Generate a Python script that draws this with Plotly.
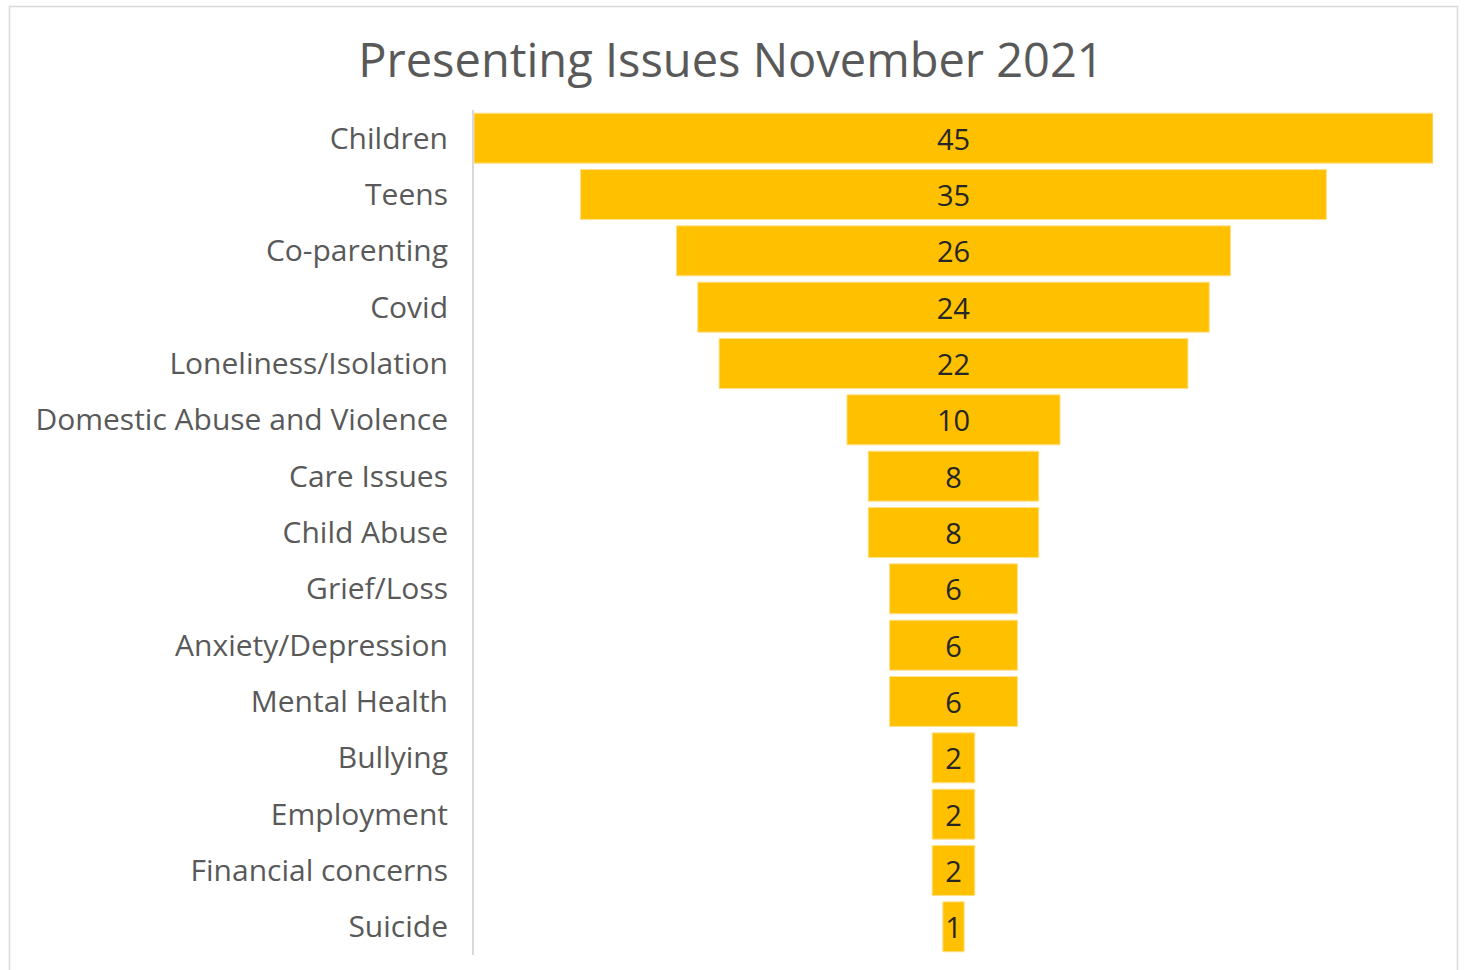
import plotly.graph_objects as go

categories = ["Children", "Teens", "Co-parenting", "Covid", "Loneliness/Isolation",
              "Domestic Abuse and Violence", "Care Issues", "Child Abuse", "Grief/Loss",
              "Anxiety/Depression", "Mental Health", "Bullying", "Employment",
              "Financial concerns", "Suicide"]
values = [45, 35, 26, 24, 22, 10, 8, 8, 6, 6, 6, 2, 2, 2, 1]

W, H = 1465, 970
L, R, T, B = 474, 32, 110, 15
pw = W - L - R
ph = H - T - B
FONT = "Open Sans, Lato, sans-serif"

fig = go.Figure(go.Funnel(
    y=categories, x=values,
    marker=dict(color="#FFC000", line=dict(color="#FFE08A", width=1)),
    connector=dict(visible=False),
    textinfo="value", textposition="inside",
    insidetextanchor="middle",
    textfont=dict(family=FONT, size=29, color="#262626"),
    constraintext="none",
))

def px2x(p):
    return (p - L) / pw

def px2y(p):
    return 1 - (p - T) / ph

fig.update_layout(
    width=W, height=H,
    margin=dict(l=L, r=R, t=T, b=B),
    paper_bgcolor="white", plot_bgcolor="white",
    funnelgap=0.113,
    showlegend=False,
    title=dict(text="Presenting Issues November 2021", x=731 / W, xanchor="center",
               y=1 - 61 / H, yanchor="middle",
               font=dict(family=FONT, size=47, color="#595959")),
    xaxis=dict(range=[-22.5, 22.5], visible=False, fixedrange=True),
    yaxis=dict(showline=True, linecolor="#D9D9D9", linewidth=2, ticks="",
               ticklabelstandoff=18,
               tickfont=dict(family=FONT, size=30, color="#595959"),
               showgrid=False),
    shapes=[dict(type="rect", xref="paper", yref="paper",
                 x0=px2x(9.5), x1=px2x(1457.5), y0=px2y(980), y1=px2y(6.5),
                 line=dict(color="#D9D9D9", width=1.5), fillcolor="rgba(0,0,0,0)",
                 layer="below")],
)

fig.write_html("out.html")
